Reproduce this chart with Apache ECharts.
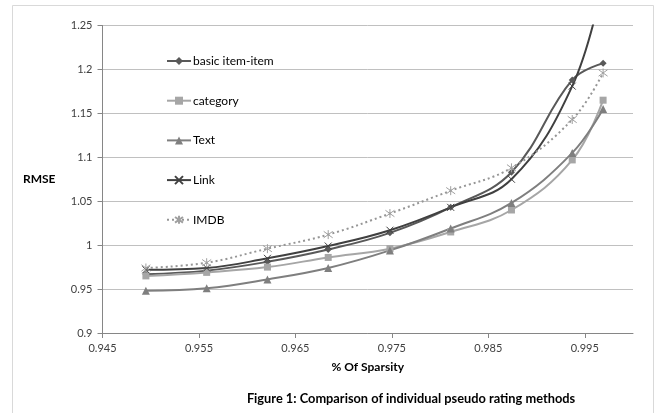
<!DOCTYPE html>
<html>
<head>
<meta charset="utf-8">
<script src="https://cdn.jsdelivr.net/npm/echarts@6/dist/echarts.min.js"></script>
<style>
html,body{margin:0;padding:0;background:#fff;}
#chart{width:662px;height:413px;}
</style>
</head>
<body>
<div id="chart"></div>
<script>
const sparsity = [0.9495, 0.9558, 0.9621, 0.9684, 0.9748, 0.9811, 0.9874, 0.9937, 0.9969];
const basicItemItem = [0.967, 0.971, 0.981, 0.995, 1.014, 1.043, 1.083, 1.188, 1.207];
const category = [0.965, 0.969, 0.975, 0.986, 0.996, 1.015, 1.040, 1.097, 1.165];
const textVals = [0.948, 0.951, 0.961, 0.974, 0.994, 1.019, 1.048, 1.105, 1.155];
const link = [0.972, 0.974, 0.985, 0.999, 1.017, 1.043, 1.075, 1.181, 1.30];
const imdb = [0.974, 0.980, 0.996, 1.012, 1.036, 1.062, 1.088, 1.143, 1.196];
const xTicks = [0.945, 0.955, 0.965, 0.975, 0.985, 0.995];
const seriesNames = ['basic item-item', 'category', 'Text', 'Link', 'IMDB'];

function pairs(vals){ return sparsity.map((x,i)=>[x, vals[i]]); }
const FONT = 'Lato';

const chart = echarts.init(document.getElementById('chart'), null, {renderer:'canvas'});
const common = {type:'line', smooth:0.4, clip:true, showAllSymbol:true};
chart.setOption({
  animation:false,
  backgroundColor:'#fff',
  graphic:[{
    type:'rect', shape:{x:12.5, y:5.5, width:641, height:500},
    style:{fill:'none', stroke:'#d9d9d9', lineWidth:1}, z:-10
  }],
  title:{
    text:'Figure 1: Comparison of individual pseudo rating methods',
    left:406, textAlign:'center', top:387,
    textStyle:{fontFamily:FONT, fontSize:12.8, fontWeight:'bold', color:'#000'}
  },
  grid:{left:102.5, right:29, top:25.5, bottom:80},
  legend:{
    orient:'vertical', left:161, top:50, itemWidth:24, itemHeight:10, itemGap:27.7,
    data:seriesNames,
    textStyle:{fontFamily:FONT, fontSize:12, color:'#000', padding:[0,0,0,-3]}
  },
  xAxis:{
    type:'value', min:0.945, max:1.0,
    name:'% Of Sparsity', nameLocation:'middle', nameGap:28,
    nameTextStyle:{fontFamily:FONT, fontSize:12, fontWeight:'bold', color:'#000'},
    axisLine:{show:true, onZero:false, lineStyle:{color:'#868686', width:1}},
    axisTick:{show:true, length:5, customValues:xTicks, lineStyle:{color:'#868686'}},
    axisLabel:{customValues:xTicks, margin:10, fontFamily:FONT, fontSize:11, color:'#404040',
      formatter:v=>v.toFixed(3)},
    splitLine:{show:false}
  },
  yAxis:{
    type:'value', min:0.9, max:1.25, interval:0.05,
    name:'RMSE', nameLocation:'middle', nameRotate:0, nameGap:47,
    nameTextStyle:{fontFamily:FONT, fontSize:12, fontWeight:'bold', color:'#000'},
    axisLine:{show:true, lineStyle:{color:'#868686', width:1}},
    axisTick:{show:true, length:5, lineStyle:{color:'#868686'}},
    axisLabel:{margin:10, fontFamily:FONT, fontSize:11, color:'#404040'},
    splitLine:{show:true, lineStyle:{color:'#c0c0c0', width:1}}
  },
  series:[
    Object.assign({}, common, {name:seriesNames[0], data:pairs(basicItemItem),
      symbol:'diamond', symbolSize:7,
      lineStyle:{color:'#595959', width:2}, itemStyle:{color:'#595959'}}),
    Object.assign({}, common, {name:seriesNames[1], data:pairs(category),
      symbol:'rect', symbolSize:7,
      lineStyle:{color:'#a6a6a6', width:2}, itemStyle:{color:'#a6a6a6'}}),
    Object.assign({}, common, {name:seriesNames[2], data:pairs(textVals),
      symbol:'triangle', symbolSize:8,
      lineStyle:{color:'#7f7f7f', width:2}, itemStyle:{color:'#7f7f7f'}}),
    Object.assign({}, common, {name:seriesNames[3], data:pairs(link),
      symbol:'path://M0,0L10,10M10,0L0,10', symbolSize:7,
      lineStyle:{color:'#404040', width:2},
      itemStyle:{color:'rgba(0,0,0,0)', borderColor:'#404040', borderWidth:1}}),
    Object.assign({}, common, {name:seriesNames[4], data:pairs(imdb),
      symbol:'path://M0,0L10,10M10,0L0,10M5,-2L5,12', symbolSize:9,
      lineStyle:{color:'#969696', width:2, type:[2,3]},
      itemStyle:{color:'rgba(0,0,0,0)', borderColor:'#a0a0a0', borderWidth:1}})
  ]
});
</script>
</body>
</html>
